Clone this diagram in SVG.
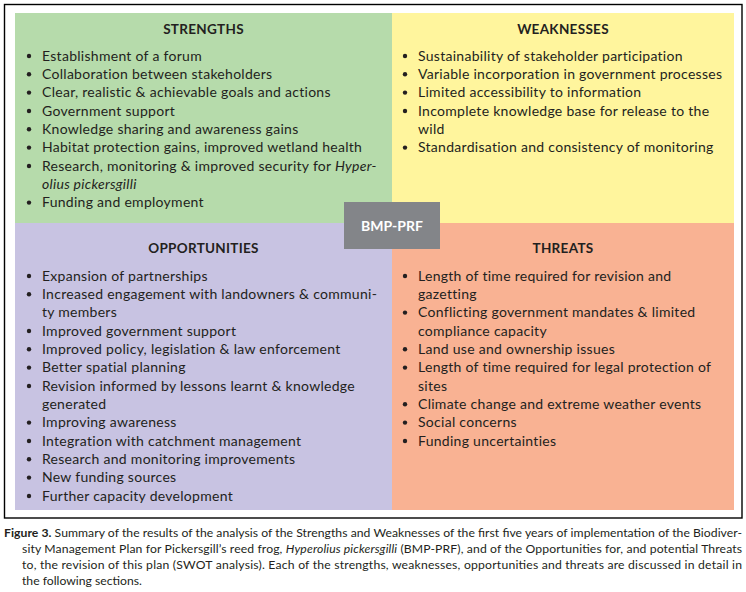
<svg xmlns="http://www.w3.org/2000/svg" width="746" height="592" viewBox="0 0 746 592">
<style>
.t{font-family:Lato,"Open Sans","DejaVu Sans",sans-serif;font-size:14px;letter-spacing:0.28px;fill:#231f20}
.h{font-family:Lato,"Open Sans","DejaVu Sans",sans-serif;font-size:13.5px;font-weight:bold;fill:#231f20;text-anchor:middle;letter-spacing:0.3px}
.b{fill:#231f20}
.c{font-family:Lato,"Liberation Sans",sans-serif;font-size:12.2px;fill:#231f20}
</style>
<rect x="4.5" y="4.5" width="737.5" height="513.5" fill="#fff" stroke="#000" stroke-width="1.4"/>
<g id="strengths">
<rect x="15" y="13" width="377" height="210" fill="#b6dbab"/>
<text class="h" x="203.5" y="33.5">STRENGTHS</text>
<g class="b"><circle cx="29" cy="56" r="2.2"/><circle cx="29" cy="74.3" r="2.2"/><circle cx="29" cy="92.6" r="2.2"/><circle cx="29" cy="111" r="2.2"/><circle cx="29" cy="129.3" r="2.2"/><circle cx="29" cy="147.6" r="2.2"/><circle cx="29" cy="166" r="2.2"/><circle cx="29" cy="202.6" r="2.2"/></g>
<text class="t" x="42" y="60.5">Establishment of a forum</text>
<text class="t" x="42" y="78.8">Collaboration between stakeholders</text>
<text class="t" x="42" y="97.1">Clear, realistic &amp; achievable goals and actions</text>
<text class="t" x="42" y="115.5">Government support</text>
<text class="t" x="42" y="133.8">Knowledge sharing and awareness gains</text>
<text class="t" x="42" y="152.1">Habitat protection gains, improved wetland health</text>
<text class="t" x="42" y="170.5">Research, monitoring &amp; improved security for <tspan font-style="italic">Hyper-</tspan></text>
<text class="t" x="42" y="188.8" font-style="italic">olius pickersgilli</text>
<text class="t" x="42" y="207.1">Funding and employment</text>
</g>
<g id="weaknesses">
<rect x="392" y="13" width="342" height="210" fill="#fff59d"/>
<text class="h" x="563" y="33.5">WEAKNESSES</text>
<g class="b"><circle cx="405" cy="56" r="2.2"/><circle cx="405" cy="74.3" r="2.2"/><circle cx="405" cy="92.6" r="2.2"/><circle cx="405" cy="111" r="2.2"/><circle cx="405" cy="147.6" r="2.2"/></g>
<text class="t" x="418" y="60.5">Sustainability of stakeholder participation</text>
<text class="t" x="418" y="78.8">Variable incorporation in government processes</text>
<text class="t" x="418" y="97.1">Limited accessibility to information</text>
<text class="t" x="418" y="115.5">Incomplete knowledge base for release to the</text>
<text class="t" x="418" y="133.8">wild</text>
<text class="t" x="418" y="152.1">Standardisation and consistency of monitoring</text>
</g>
<g id="opportunities">
<rect x="15" y="223" width="377" height="287" fill="#c8c3e2"/>
<text class="h" x="203.5" y="252.5">OPPORTUNITIES</text>
<g class="b"><circle cx="29" cy="276" r="2.2"/><circle cx="29" cy="294.3" r="2.2"/><circle cx="29" cy="331" r="2.2"/><circle cx="29" cy="349.3" r="2.2"/><circle cx="29" cy="367.6" r="2.2"/><circle cx="29" cy="386" r="2.2"/><circle cx="29" cy="422.6" r="2.2"/><circle cx="29" cy="441" r="2.2"/><circle cx="29" cy="459.3" r="2.2"/><circle cx="29" cy="477.6" r="2.2"/><circle cx="29" cy="496" r="2.2"/></g>
<text class="t" x="42" y="280.5">Expansion of partnerships</text>
<text class="t" x="42" y="298.8">Increased engagement with landowners &amp; communi-</text>
<text class="t" x="42" y="317.1">ty members</text>
<text class="t" x="42" y="335.5">Improved government support</text>
<text class="t" x="42" y="353.8">Improved policy, legislation &amp; law enforcement</text>
<text class="t" x="42" y="372.1">Better spatial planning</text>
<text class="t" x="42" y="390.5">Revision informed by lessons learnt &amp; knowledge</text>
<text class="t" x="42" y="408.8">generated</text>
<text class="t" x="42" y="427.1">Improving awareness</text>
<text class="t" x="42" y="445.5">Integration with catchment management</text>
<text class="t" x="42" y="463.8">Research and monitoring improvements</text>
<text class="t" x="42" y="482.1">New funding sources</text>
<text class="t" x="42" y="500.5">Further capacity development</text>
</g>
<g id="threats">
<rect x="392" y="223" width="342" height="287" fill="#f9b293"/>
<text class="h" x="563" y="252.5">THREATS</text>
<g class="b"><circle cx="405" cy="276" r="2.2"/><circle cx="405" cy="312.6" r="2.2"/><circle cx="405" cy="349.3" r="2.2"/><circle cx="405" cy="367.6" r="2.2"/><circle cx="405" cy="404.3" r="2.2"/><circle cx="405" cy="422.6" r="2.2"/><circle cx="405" cy="441" r="2.2"/></g>
<text class="t" x="418" y="280.5">Length of time required for revision and</text>
<text class="t" x="418" y="298.8">gazetting</text>
<text class="t" x="418" y="317.1">Conflicting government mandates &amp; limited</text>
<text class="t" x="418" y="335.5">compliance capacity</text>
<text class="t" x="418" y="353.8">Land use and ownership issues</text>
<text class="t" x="418" y="372.1">Length of time required for legal protection of</text>
<text class="t" x="418" y="390.5">sites</text>
<text class="t" x="418" y="408.8">Climate change and extreme weather events</text>
<text class="t" x="418" y="427.1">Social concerns</text>
<text class="t" x="418" y="445.5">Funding uncertainties</text>
</g>
<g id="connectors"/>
<g id="center">
<rect x="344" y="202" width="96" height="47" fill="#838589"/>
<text x="392" y="231" text-anchor="middle" font-family="Lato,'Open Sans',sans-serif" font-size="14px" font-weight="bold" fill="#fff">BMP-PRF</text>
</g>
<g id="caption">
<text class="c" x="4" y="536.5" textLength="738" lengthAdjust="spacing"><tspan font-weight="bold">Figure 3.</tspan> Summary of the results of the analysis of the Strengths and Weaknesses of the first five years of implementation of the Biodiver-</text>
<text class="c" x="22" y="552.5" textLength="720" lengthAdjust="spacing">sity Management Plan for Pickersgill’s reed frog, <tspan font-style="italic">Hyperolius pickersgilli</tspan> (BMP-PRF), and of the Opportunities for, and potential Threats</text>
<text class="c" x="22" y="568.5" textLength="720" lengthAdjust="spacing">to, the revision of this plan (SWOT analysis). Each of the strengths, weaknesses, opportunities and threats are discussed in detail in</text>
<text class="c" x="22" y="584.5">the following sections.</text>
</g>
</svg>
